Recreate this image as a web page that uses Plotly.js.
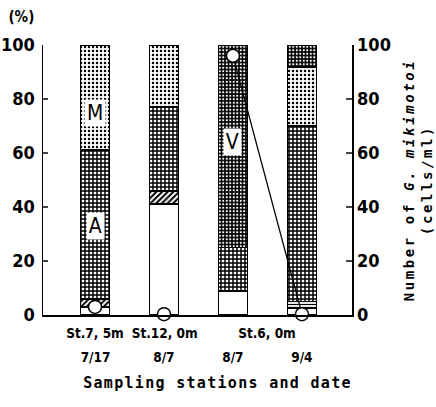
<!DOCTYPE html>
<html><head><meta charset="utf-8">
<script src="https://cdn.plot.ly/plotly-3.0.1.min.js"></script>
<style>
body{margin:0;background:#fff}
#chart text{font-stretch:condensed}
#chart .g-y2title text{letter-spacing:2.6px}
#chart .g-xtitle text{letter-spacing:1.3px}
#chart .g-xtitle{transform:translateX(20px)}
</style>
</head><body><div id="chart" style="width:436px;height:407px"></div>
<script>
// ---- data ----
const categories = ["St.7 7/17", "St.12 8/7", "St.6 8/7", "St.6 9/4"];
const stationLabels = ["St.7, 5m", "St.12, 0m", "", ""];
const dateLabels = ["7/17", "8/7", "8/7", "9/4"];
const groupLabel = "St.6, 0m";
const whitePct    = [3, 41, 9, 2.5];
const hatchPct    = [3, 5, 0, 0];
const stripePct   = [0, 0, 0, 2.5];
const gridPct     = [55, 31, 16, 65];   // A
const lightDotPct = [39, 23, 0, 22];    // M
const darkDotPct  = [0, 0, 75, 8];      // V
const cellCounts  = [3, 0.3, 96, 0.3];  // cells/ml
const axisTicks   = [0, 20, 40, 60, 80, 100];

const NARROW = "DejaVu Sans, sans-serif";
const MONO = "DejaVu Sans Mono, Liberation Mono, monospace";
const outline = {color: "black", width: 1.8};
const BW = 0.42;

function barTrace(name, vals, pattern) {
  return {type: "bar", name: name, x: categories, y: vals, width: BW,
    marker: {color: "white", line: outline, pattern: pattern},
    hoverinfo: "y+name"};
}

const traces = [
  barTrace("other", whitePct, {shape: ""}),
  barTrace("hatch", hatchPct, {shape: "/", fgcolor: "black", bgcolor: "white", size: 4, solidity: 0.5}),
  barTrace("stripe", stripePct, {shape: "-", fgcolor: "black", bgcolor: "white", size: 3, solidity: 0.4}),
  barTrace("A", gridPct, {shape: "+", fgcolor: "black", bgcolor: "white", size: 4, solidity: 0.6}),
  barTrace("M", lightDotPct, {shape: ".", fgcolor: "black", bgcolor: "white", size: 4, solidity: 0.3}),
  barTrace("V", darkDotPct, {shape: ".", fgcolor: "white", bgcolor: "black", size: 3.5, solidity: 0.3}),
  {type: "scatter", mode: "lines", x: categories.slice(2), y: cellCounts.slice(2),
    yaxis: "y2", line: {color: "black", width: 1.3}, hoverinfo: "skip", cliponaxis: false},
  {type: "scatter", mode: "markers", x: categories, y: cellCounts, yaxis: "y2",
    cliponaxis: false,
    marker: {size: 13, color: "white", line: {color: "black", width: 1.5}}}
];

const labelFont = {family: NARROW, size: 13.5, color: "black", weight: "bold"};
const annotations = [];
categories.forEach((c, i) => {
  if (stationLabels[i]) annotations.push({x: c, xref: "x", y: -0.067, yref: "paper",
    text: stationLabels[i], showarrow: false, yanchor: "middle", font: labelFont});
  annotations.push({x: c, xref: "x", y: -0.156, yref: "paper",
    text: dateLabels[i], showarrow: false, yanchor: "middle", font: labelFont});
});
annotations.push({x: 2.5, xref: "x", y: -0.067, yref: "paper", text: groupLabel,
  showarrow: false, yanchor: "middle", font: labelFont});
annotations.push({x: -0.068, xref: "paper", y: 1.104, yref: "paper", text: "(%)",
  showarrow: false, xanchor: "center", yanchor: "middle",
  font: {family: NARROW, size: 15, color: "black", weight: "bold"}});
// group letters inside bars
[["M", 0, 75], ["A", 0, 33], ["V", 2, 64]].forEach(([t, ci, yv]) => {
  annotations.push({x: categories[ci], xref: "x", y: yv, yref: "y", text: t, showarrow: false,
    bgcolor: "white", borderpad: 1,
    font: {family: NARROW, size: 21, color: "black"}});
});

const tickFont = {family: NARROW, size: 18, color: "black", weight: "bold"};

const layout = {
  width: 436, height: 407,
  margin: {l: 43, r: 84, t: 45, b: 92},
  paper_bgcolor: "white", plot_bgcolor: "white",
  barmode: "stack", showlegend: false,
  xaxis: {type: "category", range: [-0.754, 3.725], showline: true, linecolor: "black",
    linewidth: 1.5, showticklabels: false, ticks: "", showgrid: false, zeroline: false,
    fixedrange: true, automargin: false,
    title: {text: "Sampling stations and date", standoff: 62,
      font: {family: MONO, size: 15, color: "black", weight: "bold"}}},
  yaxis: {range: [0, 100], tickvals: axisTicks, ticks: "inside", ticklen: 5, tickwidth: 1.3,
    showline: true, linecolor: "black", linewidth: 1.5, showgrid: false, zeroline: false,
    tickfont: tickFont, ticklabelstandoff: 3, automargin: false},
  yaxis2: {range: [0, 100], overlaying: "y", side: "right", tickvals: axisTicks,
    ticks: "inside", ticklen: 6, tickwidth: 1.3, showline: true, linecolor: "black",
    linewidth: 1.5, showgrid: false, zeroline: false, tickfont: tickFont, automargin: false,
    title: {text: "Number of <i>G. mikimotoi</i><br>(cells/ml)", standoff: 10,
      font: {family: MONO, size: 14, color: "black", weight: "bold"}}},
  annotations: annotations
};

Plotly.newPlot("chart", traces, layout, {displayModeBar: false, staticPlot: true});
</script></body></html>
